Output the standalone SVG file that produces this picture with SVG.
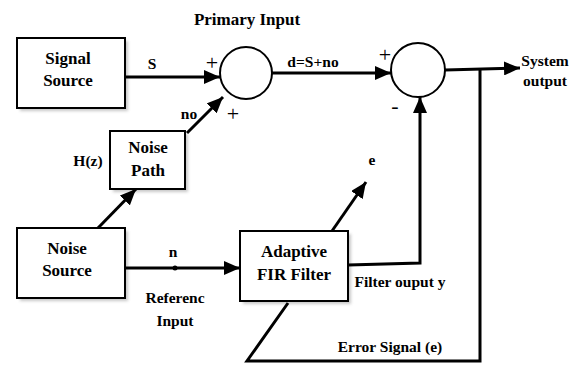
<svg xmlns="http://www.w3.org/2000/svg" width="575" height="369" viewBox="0 0 575 369">
<style>
.box{fill:#fff;stroke:#000;stroke-width:2}
.sh{fill:#c8c8c8}
.t{font-family:"Liberation Serif","Times New Roman",serif;font-weight:bold;font-size:17px;fill:#000;text-anchor:middle}
.s{font-size:15.5px}
.p{font-weight:normal;font-size:22px}
.w{fill:none;stroke:#000;stroke-width:3}
.c{fill:#fff;stroke:#000;stroke-width:2}
</style>
<defs>
<marker id="ah" markerUnits="userSpaceOnUse" markerWidth="18" markerHeight="14" refX="16" refY="7" orient="auto">
<path d="M0,0 L16,7 L0,14 Z" fill="#000"/>
</marker>
<filter id="blur"><feGaussianBlur stdDeviation="1.5"/></filter>
</defs>
<rect width="575" height="369" fill="#fff"/>

<text class="t" x="247" y="25">Primary Input</text>

<g id="signal-source">
<rect class="sh" x="20" y="41" width="108" height="70" filter="url(#blur)"/>
<rect class="box" x="17" y="38" width="108" height="70"/>
<text class="t" x="68" y="64">Signal</text>
<text class="t" x="68" y="86">Source</text>
</g>

<g id="noise-path">
<rect class="sh" x="113" y="134" width="75" height="58" filter="url(#blur)"/>
<rect class="box" x="110" y="131" width="75" height="58"/>
<text class="t" x="148" y="153">Noise</text>
<text class="t" x="148" y="176">Path</text>
</g>

<g id="noise-source">
<rect class="sh" x="20" y="231" width="108" height="70" filter="url(#blur)"/>
<rect class="box" x="17" y="228" width="108" height="70"/>
<text class="t" x="67" y="254">Noise</text>
<text class="t" x="67" y="276">Source</text>
</g>

<g id="adaptive-filter">
<rect class="sh" x="243" y="234" width="108" height="70" filter="url(#blur)"/>
<rect class="box" x="240" y="231" width="108" height="70"/>
<text class="t" x="294" y="257">Adaptive</text>
<text class="t" x="294" y="280">FIR Filter</text>
</g>

<g id="sum1">
<circle class="c" cx="246" cy="73" r="26"/>
<text class="t p" x="212" y="70">+</text>
<text class="t p" x="233" y="121">+</text>
</g>

<g id="sum2">
<circle class="c" cx="418" cy="70" r="27"/>
<text class="t p" x="385" y="62">+</text>
<text class="t p" x="395" y="113">-</text>
</g>

<g id="connectors">
<line class="w" x1="125" y1="77" x2="220" y2="77" marker-end="url(#ah)"/>
<line class="w" x1="187" y1="133" x2="223" y2="97" marker-end="url(#ah)"/>
<line class="w" x1="98" y1="228" x2="136" y2="189" marker-end="url(#ah)"/>
<line class="w" x1="125" y1="268" x2="240" y2="268" marker-end="url(#ah)"/>
<circle cx="175" cy="268" r="2.5" fill="#000"/>
<line class="w" x1="272" y1="73" x2="391" y2="73" marker-end="url(#ah)"/>
<line class="w" x1="445" y1="70" x2="520" y2="68" marker-end="url(#ah)"/>
<polyline class="w" points="348,265 420,263 420,97" marker-end="url(#ah)"/>
<line class="w" x1="332" y1="231" x2="366" y2="182" marker-end="url(#ah)"/>
<polyline class="w" points="480,69 480,361 247,361 288,303"/>
</g>

<g id="labels">
<text class="t s" x="152" y="69">S</text>
<text class="t s" x="189" y="119">no</text>
<text class="t s" x="88" y="166">H(z)</text>
<text class="t s" x="173" y="257">n</text>
<text class="t s" x="175" y="303">Referenc</text>
<text class="t s" x="175" y="326">Input</text>
<text class="t s" x="313" y="67">d=S+no</text>
<text class="t s" x="372" y="165">e</text>
<text class="t s" x="545" y="66">System</text>
<text class="t s" x="545" y="86">output</text>
<text class="t s" x="400" y="287">Filter ouput y</text>
<text class="t s" x="390" y="352">Error Signal (e)</text>
</g>
</svg>
